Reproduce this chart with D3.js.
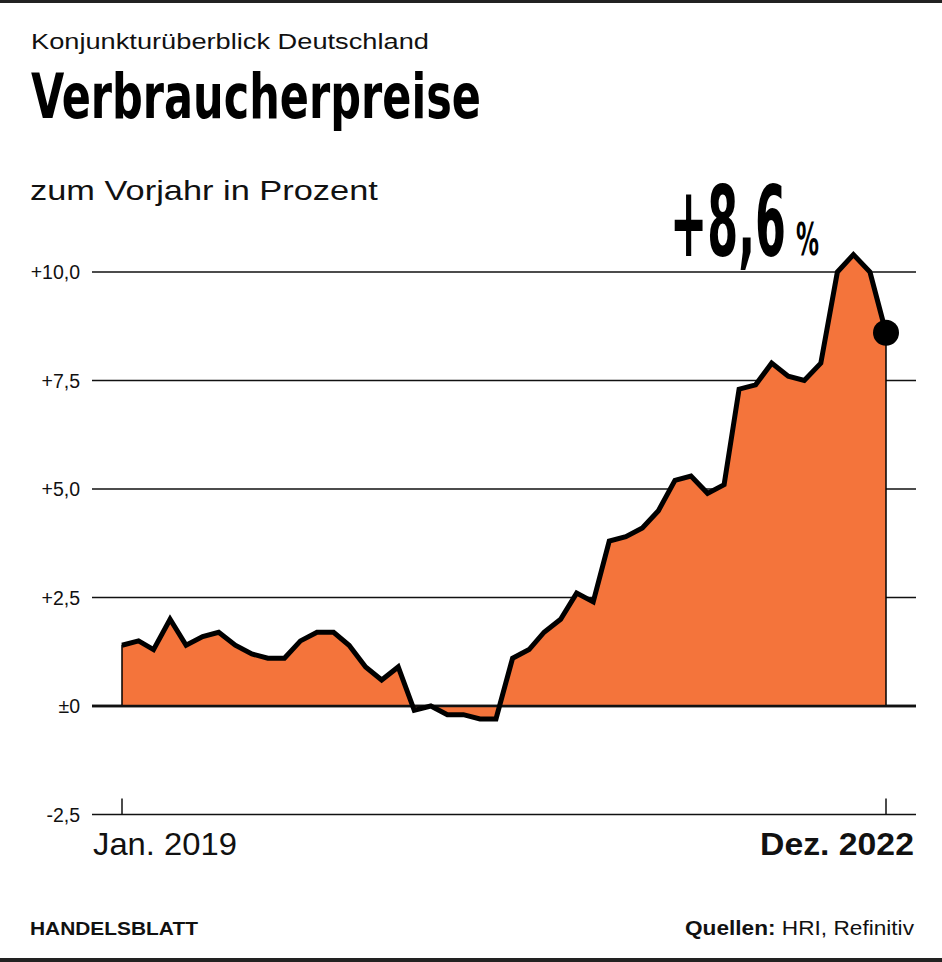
<!DOCTYPE html>
<html><head><meta charset="utf-8">
<script src="https://cdn.jsdelivr.net/npm/d3@7"></script>
<style>
html,body{margin:0;padding:0;background:#fff;}
svg text{font-family:"Liberation Sans",Arial,sans-serif;}
</style></head>
<body>
<svg id="c" width="942" height="962"></svg>
<script>
// Data: German consumer prices, change vs. previous year in %, Jan 2019 – Dec 2022
const months = d3.range(48).map(i => new Date(2019, i, 1));
const values = [
  1.4, 1.5, 1.3, 2.0, 1.4, 1.6, 1.7, 1.4, 1.2, 1.1, 1.1, 1.5,
  1.7, 1.7, 1.4, 0.9, 0.6, 0.9, -0.1, 0.0, -0.2, -0.2, -0.3, -0.3,
  1.1, 1.3, 1.7, 2.0, 2.6, 2.4, 3.8, 3.9, 4.1, 4.5, 5.2, 5.3,
  4.9, 5.1, 7.3, 7.4, 7.9, 7.6, 7.5, 7.9, 10.0, 10.4, 10.0, 8.6
];
const yTicks = [-2.5, 0, 2.5, 5, 7.5, 10];
const yTickLabels = ["-2,5", "±0", "+2,5", "+5,0", "+7,5", "+10,0"];
const xLabels = ["Jan. 2019", "Dez. 2022"];
const lastLabel = "+8,6";

const data = months.map((d, i) => ({date: d, value: values[i]}));
const svg = d3.select("#c");

const x = d3.scaleTime().domain([months[0], months[months.length - 1]]).range([122, 886]);
const y = d3.scaleLinear().domain([0, 10]).range([706, 272]);

const COND = "'Liberation Sans Narrow','DejaVu Sans Condensed',sans-serif";

// place text at (px,py) with anchor, horizontally scaled to width w
function fitText(parent, str, px, py, size, w, opts = {}) {
  const g = parent.append("g");
  const t = g.append("text").attr("font-size", size).attr("fill", opts.fill || "#111")
    .attr("font-weight", opts.bold ? "bold" : "normal");
  if (opts.family) t.style("font-family", opts.family);
  if (opts.spans) opts.spans.forEach(s => t.append("tspan").attr("font-weight", s.bold ? "bold" : "normal").text(s.t));
  else t.text(str);
  const nat = t.node().getComputedTextLength();
  const sx = w / nat;
  const anchor = opts.anchor || "start";
  const x0 = anchor === "end" ? px - w : px;
  g.attr("transform", `translate(${x0},${py}) scale(${sx},1)`);
  return g;
}

// frame lines
svg.append("rect").attr("x", 0).attr("y", 0).attr("width", 942).attr("height", 3).attr("fill", "#222");
svg.append("rect").attr("x", 0).attr("y", 958).attr("width", 942).attr("height", 4).attr("fill", "#222");

// header
fitText(svg, "Konjunkturüberblick Deutschland", 31, 49, 22.5, 398);
fitText(svg, "Verbraucherpreise", 31, 118, 62, 450, {bold: true, family: COND, fill: "#000"});
fitText(svg, "zum Vorjahr in Prozent", 30, 200, 28.5, 348);

// grid lines
const grid = svg.append("g");
yTicks.forEach((t, i) => {
  grid.append("line").attr("x1", 92).attr("x2", 916)
    .attr("y1", y(t)).attr("y2", y(t))
    .attr("stroke", "#111").attr("stroke-width", t === 0 ? 2.5 : 1.3);
  grid.append("text").attr("x", 80).attr("y", y(t) + 7).attr("text-anchor", "end")
    .attr("font-size", 19.5).attr("fill", "#111").text(yTickLabels[i]);
});

// x-axis ticks at ends
[months[0], months[months.length - 1]].forEach(d => {
  svg.append("line").attr("x1", x(d)).attr("x2", x(d)).attr("y1", y(-2.5)).attr("y2", y(-2.5) - 16)
    .attr("stroke", "#111").attr("stroke-width", 1.5);
});
fitText(svg, xLabels[0], 93, 855, 31, 144);
fitText(svg, xLabels[1], 914, 855, 31, 154, {bold: true, anchor: "end"});

// area
const area = d3.area().x(d => x(d.date)).y0(y(0)).y1(d => y(d.value));
svg.append("path").datum(data).attr("d", area).attr("fill", "#F4743B")
  .attr("stroke", "#000").attr("stroke-width", 1.5);
// redraw zero line over area
svg.append("line").attr("x1", 92).attr("x2", 916).attr("y1", y(0)).attr("y2", y(0))
  .attr("stroke", "#111").attr("stroke-width", 2.5);

// line
const line = d3.line().x(d => x(d.date)).y(d => y(d.value));
svg.append("path").datum(data).attr("d", line).attr("fill", "none")
  .attr("stroke", "#000").attr("stroke-width", 5).attr("stroke-linejoin", "miter").attr("stroke-miterlimit", 4);

// last point
const last = data[data.length - 1];
svg.append("circle").attr("cx", x(last.date)).attr("cy", y(last.value)).attr("r", 13).attr("fill", "#000");

// big label
fitText(svg, lastLabel, 670, 256, 98, 116, {bold: true, family: COND, fill: "#000"});
fitText(svg, "%", 796, 255, 44, 23, {bold: true, family: COND, fill: "#000"});

// footer
fitText(svg, "HANDELSBLATT", 30, 935, 19, 168, {bold: true});
fitText(svg, null, 914, 935, 20, 229, {anchor: "end", spans: [{t: "Quellen:", bold: true}, {t: " HRI, Refinitiv"}]});
</script>
</body></html>
